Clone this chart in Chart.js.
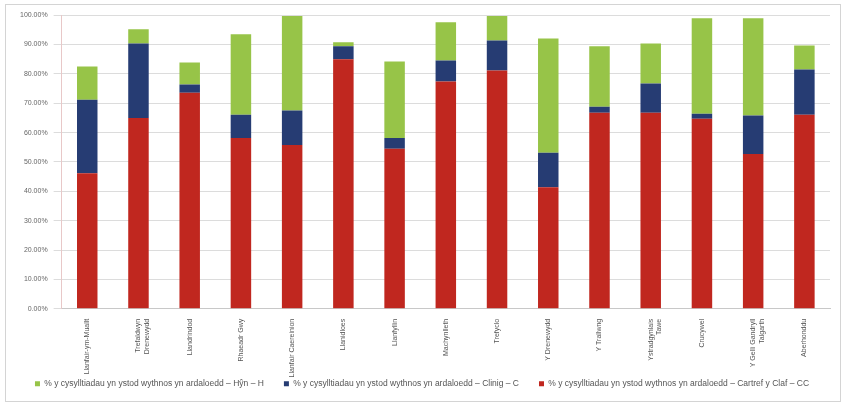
<!DOCTYPE html>
<html>
<head>
<meta charset="utf-8">
<script src="https://cdn.jsdelivr.net/npm/chart.js@4.4.1/dist/chart.umd.min.js"></script>
<style>
  body { margin: 0; background: #fff; }
  #wrap { position: absolute; left: 5px; top: 4px; width: 836px; height: 398px; border: 1px solid #d4d4d4; box-sizing: border-box; }
</style>
</head>
<body>
<div id="wrap"><canvas id="barChart"></canvas></div>
<script>
// ardaloedd (categories)
var areas = [
  "Llanfair-ym-Muallt", ["Trefaldwyn", "Drenewydd"], "Llandrindod", "Rhaeadr Gwy", "Llanfair Caereinion",
  "Llanidloes", "Llanfyllin", "Machynlleth", "Trefyclo", "Y Drenewydd",
  "Y Trallwng", ["Ystradgynlais", "Tawe"], "Crucywel", ["Y Gelli Gandryll", "Talgarth"], "Aberhonddu"
]

// % values
var cartref = [46.2, 65.0, 73.6, 58.2, 55.8, 85.0, 54.5, 77.4, 81.2, 41.4, 66.8, 66.8, 64.7, 52.7, 66.1]
var clinig  = [25.0, 25.4, 2.8, 7.9, 11.7, 4.4, 3.7, 7.2, 10.2, 11.7, 2.0, 9.9, 1.7, 13.1, 15.4]
var hyn     = [11.3, 4.8, 7.5, 27.4, 32.2, 1.4, 26.0, 13.0, 8.3, 39.0, 20.6, 13.7, 32.6, 33.2, 8.2]

var yTicks = [0, 10, 20, 30, 40, 50, 60, 70, 80, 90, 100]

var legendGap = 20

// wide gaps between legend items without eating the plot's height
var legendSpread = {
    id: 'legendSpread',
    beforeUpdate: function(chart) {
        var lg = chart.legend
        if (lg && !lg._spread) {
            var fit = lg.fit
            lg.fit = function() { fit.call(this); this.height -= legendGap }
            lg._spread = true
        }
    },
    afterLayout: function(chart) {
        if (chart.legend) chart.legend.top -= legendGap
    }
}

var ctx = document.getElementById("barChart").getContext('2d')
var myChart = new Chart(ctx, {
    type: 'bar',
    data: {
        labels: areas,
        datasets: [{
            label: "% y cysylltiadau yn ystod wythnos yn ardaloedd \u2013 Cartref y Claf \u2013 CC",
            data: cartref,
            backgroundColor: '#c0271f'
        }, {
            label: "% y cysylltiadau yn ystod wythnos yn ardaloedd \u2013 Clinig \u2013 C",
            data: clinig,
            backgroundColor: '#263c73'
        }, {
            label: "% y cysylltiadau yn ystod wythnos yn ardaloedd \u2013 H\u0177n \u2013 H",
            data: hyn,
            backgroundColor: '#97c448'
        }]
    },
    plugins: [legendSpread],
    options: {
        responsive: true,
        maintainAspectRatio: false,
        animation: false,
        layout: { padding: { left: 8, right: 10, top: 6, bottom: 3 } },
        datasets: { bar: { barPercentage: 0.4, categoryPercentage: 1.0 } },
        scales: {
            x: {
                stacked: true,
                grid: { display: false },
                border: { color: '#c8c8c8' },
                ticks: {
                    minRotation: 90, maxRotation: 90, autoSkip: false, padding: 2,
                    color: '#555', font: { family: 'Liberation Sans', size: 7 }
                }
            },
            y: {
                stacked: true,
                min: 0, max: 100,
                afterBuildTicks: function(axis) { axis.ticks = yTicks.map(function(v) { return { value: v } }) },
                grid: { color: '#dcdcdc' },
                border: { color: '#e8c8c8' },
                ticks: {
                    color: '#666', padding: 6, font: { family: 'Liberation Sans', size: 7 },
                    callback: function(v) { return v.toFixed(2) + '%' }
                }
            }
        },
        plugins: {
            tooltip: { enabled: false },
            legend: {
                position: 'bottom',
                reverse: true,
                labels: {
                    boxWidth: 5, boxHeight: 5, padding: legendGap,
                    color: '#555', font: { family: 'Liberation Sans', size: 8.5 }
                }
            }
        }
    }
})
</script>
</body>
</html>
